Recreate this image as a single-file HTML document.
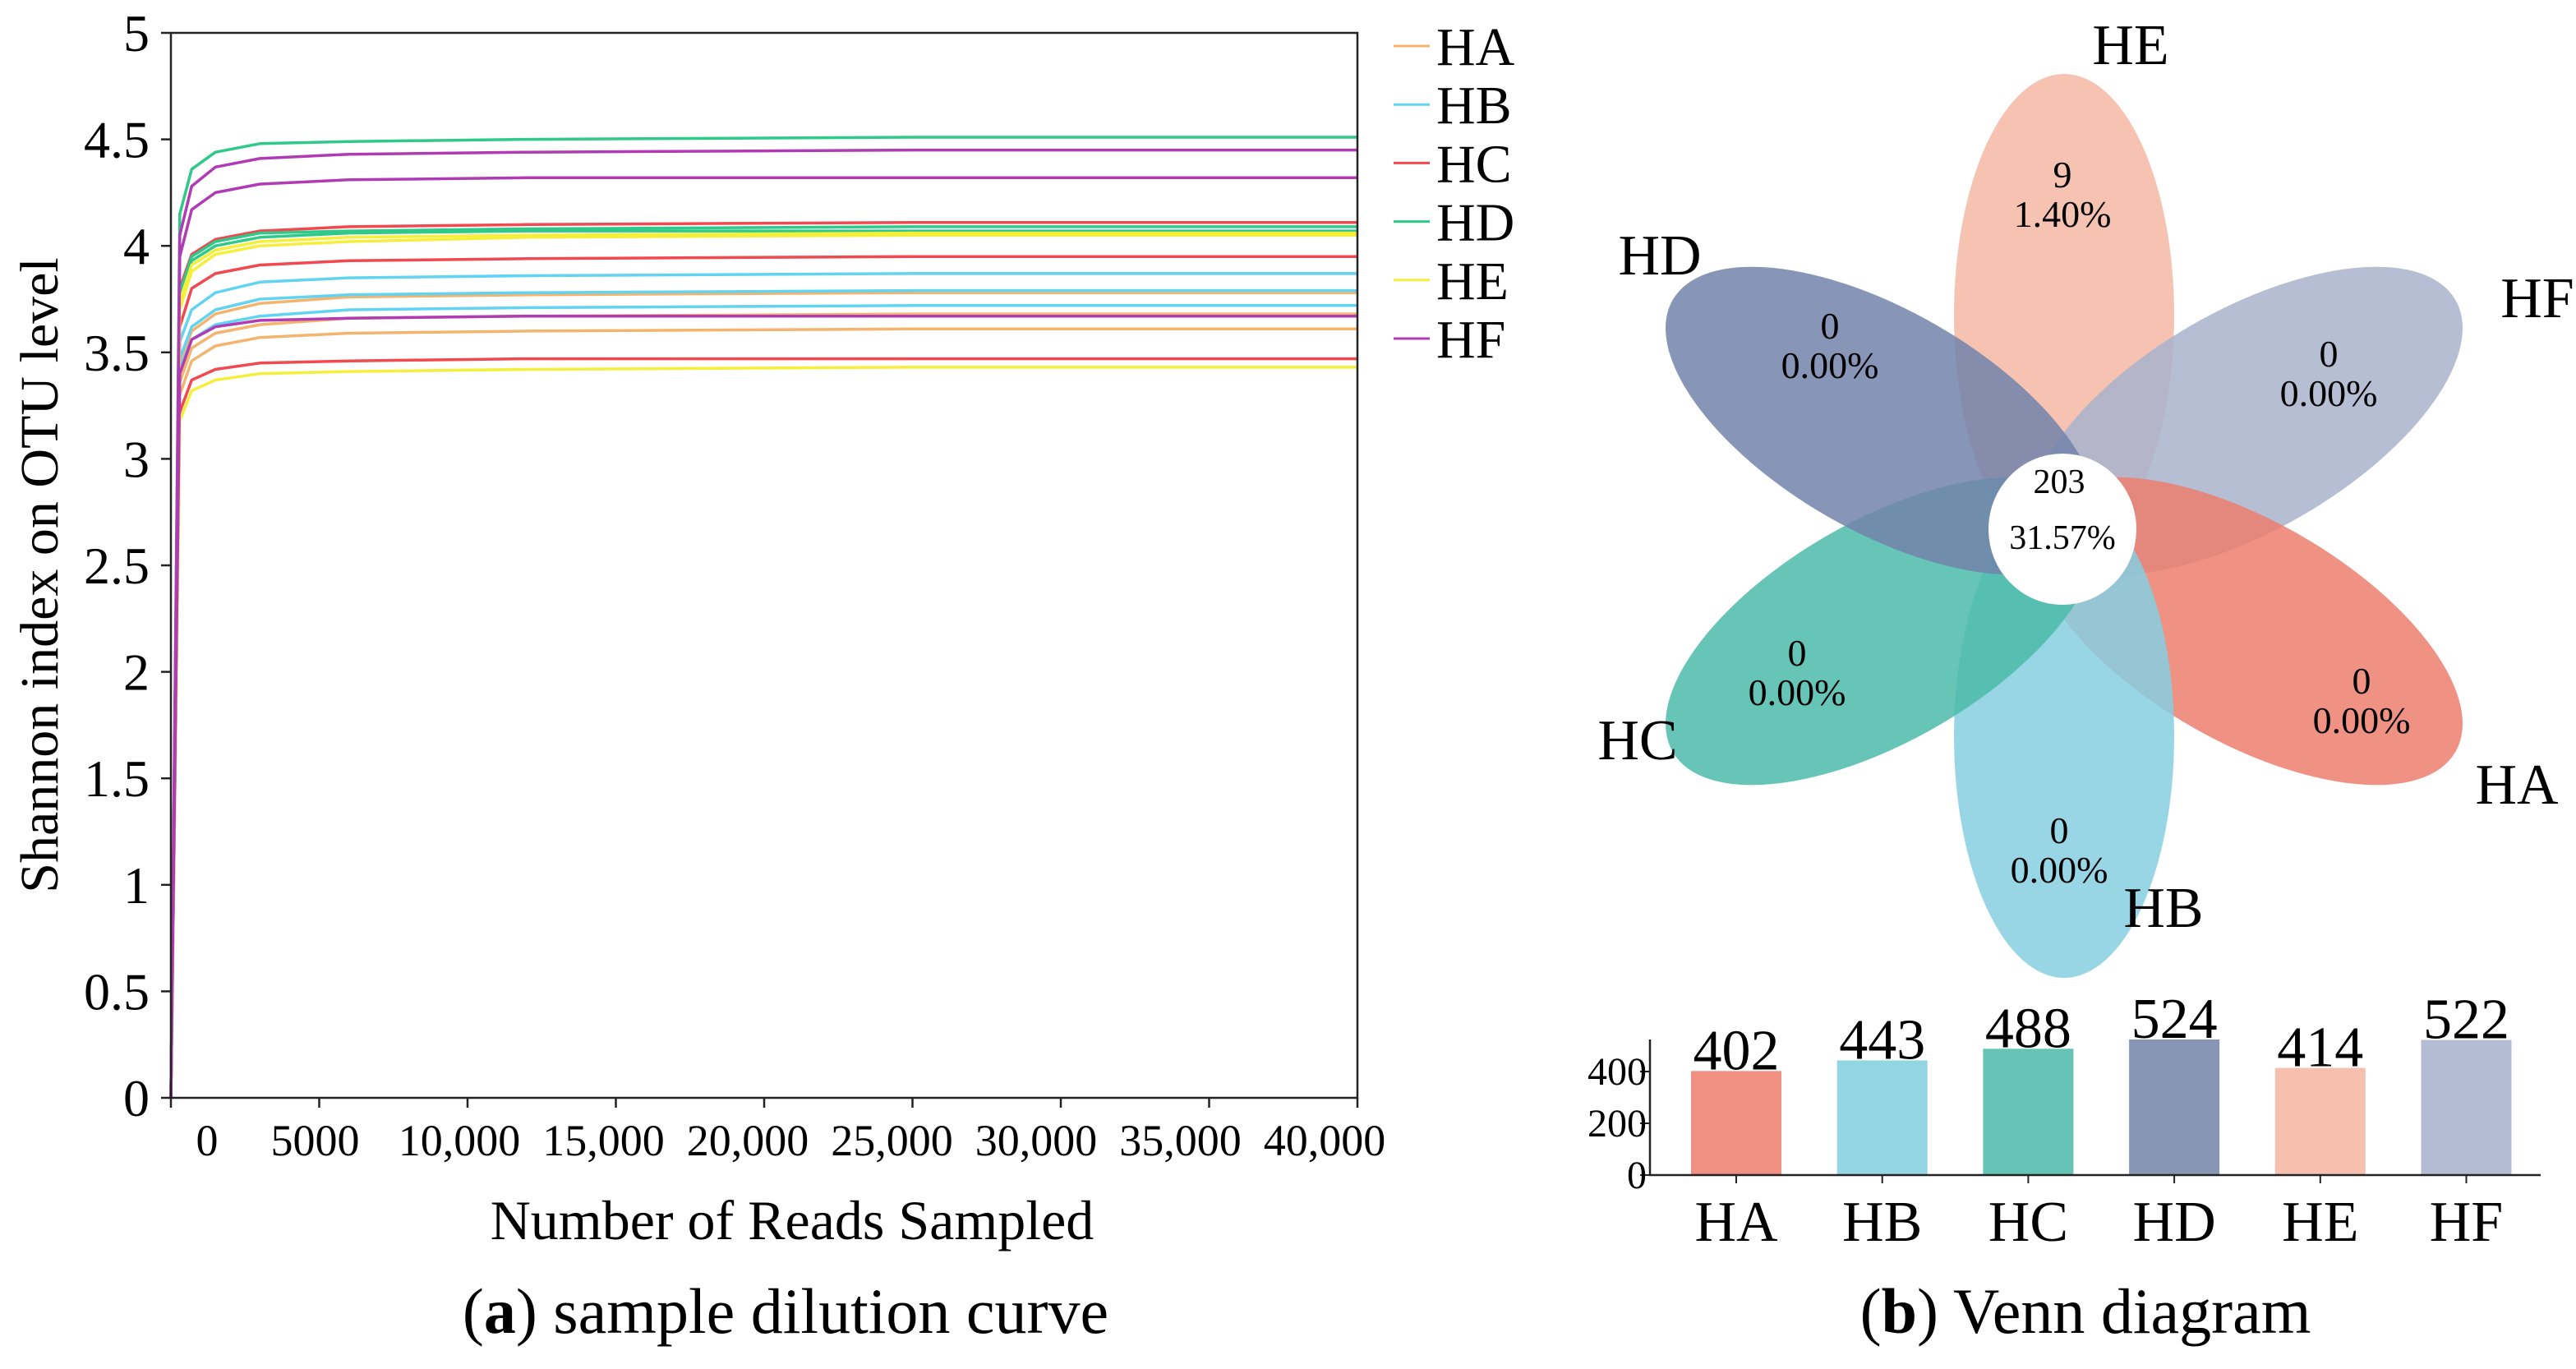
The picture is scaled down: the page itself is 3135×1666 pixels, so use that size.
<!DOCTYPE html>
<html><head><meta charset="utf-8"><style>
html,body{margin:0;padding:0;background:#fff;}
svg{display:block;}
text{font-family:"Liberation Serif","DejaVu Serif",serif;}
</style></head><body>
<svg id="fig" width="3135" height="1666" viewBox="0 0 3135 1666" xmlns="http://www.w3.org/2000/svg">
<g id="left"></g>
<g id="venn"></g>
<g id="bars"></g>
<text x="956" y="1622" font-size="78" text-anchor="middle">(<tspan font-weight="bold">a</tspan>) sample dilution curve</text>
<text x="2538" y="1622" font-size="78" text-anchor="middle">(<tspan font-weight="bold">b</tspan>) Venn diagram</text>
</svg>
<script>
const NS="http://www.w3.org/2000/svg";
function mk(tag,attrs,parent,txt){const e=document.createElementNS(NS,tag);for(const k in attrs)e.setAttribute(k,attrs[k]);if(txt!==undefined)e.textContent=txt;parent.appendChild(e);return e;}

// ---------- Chart (a) data ----------
const depths=[0,300,700,1500,3000,6000,12000,25000,40000];
const yTicks=[0,0.5,1,1.5,2,2.5,3,3.5,4,4.5,5];
const yTickLabels=["0","0.5","1","1.5","2","2.5","3","3.5","4","4.5","5"];
const xTicks=[0,5000,10000,15000,20000,25000,30000,35000,40000];
const xTickLabels=["0","5000","10,000","15,000","20,000","25,000","30,000","35,000","40,000"];
const groups=["HA","HB","HC","HD","HE","HF"];
const groupColors=["#f5b46e","#62d4f2","#f2484f","#2fc98a","#f5ef3c","#b03cb5"];
const seriesGroup=[0,0,0,1,1,1,2,2,2,3,3,3,4,4,4,5,5,5];
const s01=[0,3.45,3.60,3.68,3.73,3.76,3.77,3.78,3.78];
const s02=[0,3.36,3.52,3.59,3.63,3.66,3.67,3.68,3.68];
const s03=[0,3.30,3.46,3.53,3.57,3.59,3.60,3.61,3.61];
const s04=[0,3.55,3.70,3.78,3.83,3.85,3.86,3.87,3.87];
const s05=[0,3.47,3.62,3.70,3.75,3.77,3.78,3.79,3.79];
const s06=[0,3.42,3.56,3.63,3.67,3.70,3.71,3.72,3.72];
const s07=[0,3.80,3.96,4.03,4.07,4.09,4.10,4.11,4.11];
const s08=[0,3.62,3.80,3.87,3.91,3.93,3.94,3.95,3.95];
const s09=[0,3.22,3.37,3.42,3.45,3.46,3.47,3.47,3.47];
const s10=[0,4.15,4.36,4.44,4.48,4.49,4.50,4.51,4.51];
const s11=[0,3.78,3.95,4.02,4.06,4.07,4.08,4.09,4.09];
const s12=[0,3.76,3.93,4.00,4.04,4.06,4.07,4.07,4.07];
const s13=[0,3.74,3.91,3.98,4.02,4.04,4.05,4.06,4.06];
const s14=[0,3.70,3.88,3.96,4.00,4.02,4.04,4.05,4.05];
const s15=[0,3.18,3.32,3.37,3.40,3.41,3.42,3.43,3.43];
const s16=[0,4.05,4.28,4.37,4.41,4.43,4.44,4.45,4.45];
const s17=[0,3.95,4.17,4.25,4.29,4.31,4.32,4.32,4.32];
const s18=[0,3.40,3.56,3.62,3.65,3.66,3.67,3.67,3.67];
const seriesVals=[s01,s02,s03,s04,s05,s06,s07,s08,s09,s10,s11,s12,s13,s14,s15,s16,s17,s18];

const L=208,R=1652,T=40,B=1336;
const xs=v=>L+(v/40000)*(R-L);
const ys=v=>B-(v/5)*(B-T);
const gl=document.getElementById('left');

seriesVals.forEach((vals,i)=>{
  const d=vals.map((v,j)=>(j?'L':'M')+xs(depths[j]).toFixed(1)+' '+ys(v).toFixed(1)).join(' ');
  const p=mk('path',{d:d,fill:'none',stroke:groupColors[seriesGroup[i]],'stroke-width':3.5,'stroke-linejoin':'round'},gl);
  
  
});
const ax=mk('path',{d:`M${L} ${T} L${L} ${B} L${R} ${B} L${R} ${T} L${L} ${T}`,fill:'none',stroke:'#222','stroke-width':2.5},gl);


yTicks.forEach((v,i)=>{
  const tk=mk('line',{x1:L-12,x2:L,y1:ys(v),y2:ys(v),stroke:'#222','stroke-width':2.5},gl);
  
  
  const t=mk('text',{x:L-26,y:ys(v)+22,'font-size':64,'text-anchor':'end'},gl,yTickLabels[i]);
  
  
});
xTicks.forEach((v,i)=>{
  const tk=mk('line',{x1:xs(v),x2:xs(v),y1:B,y2:B+12,stroke:'#222','stroke-width':2.5},gl);
  
  
  const t=mk('text',{x:i===0?252:xs(v)-5*i,y:B+70,'font-size':54,'text-anchor':'middle'},gl,xTickLabels[i]);
  
  
});
const yt=mk('text',{x:0,y:0,'font-size':66,'text-anchor':'middle',transform:'translate(70,700) rotate(-90)'},gl,'Shannon index on OTU level');


const xt=mk('text',{x:964,y:1508,'font-size':68,'text-anchor':'middle'},gl,'Number of Reads Sampled');


groups.forEach((g,i)=>{
  const y=56+i*71.2;
  const ln=mk('line',{x1:1696,x2:1740,y1:y,y2:y,stroke:groupColors[i],'stroke-width':3},gl);
  
  
  const t=mk('text',{x:1748,y:y+23,'font-size':66},gl,g);
  
  
});

// ---------- Venn ----------
const vennSets=["HE","HF","HA","HB","HC","HD"];
const vennAngles=[0,60,120,180,240,300];
const vennColors=["#f5b8a4","#a9b3cc","#ec7f6f","#86cfe1","#4bbba9","#7283aa"];
const vennCounts=["9","0","0","0","0","0"];
const vennPcts=["1.40%","0.00%","0.00%","0.00%","0.00%","0.00%"];
const vennCenterCount="203", vennCenterPct="31.57%";
const CX=2512,CY=640;
const gv=document.getElementById('venn');
vennSets.forEach((s,i)=>{
  const e=mk('ellipse',{cx:CX,cy:CY-256,rx:134,ry:294,fill:vennColors[i],'fill-opacity':0.85,transform:`rotate(${vennAngles[i]} ${CX} ${CY})`},gv);
  
  
});
const cc=mk('ellipse',{cx:2510,cy:644,rx:90,ry:92,fill:'#fff'},gv);


const c1=mk('text',{x:2506,y:600,'font-size':42,'text-anchor':'middle'},gv,vennCenterCount);


const c2=mk('text',{x:2510,y:668,'font-size':42,'text-anchor':'middle'},gv,vennCenterPct);


const petalTextPos=[[2510,214],[2834,432],[2874,830],[2506,1012],[2187,796],[2227,398]];
const petalLabelPos=[[2593,78],[3088,386],[3063,978],[2633,1128],[1993,924],[2020,334]];
vennSets.forEach((s,i)=>{
  const [tx,ty]=petalTextPos[i];
  const a=mk('text',{x:tx,y:ty+14,'font-size':46,'text-anchor':'middle'},gv,vennCounts[i]);
  
  
  const b=mk('text',{x:tx,y:ty+62,'font-size':46,'text-anchor':'middle'},gv,vennPcts[i]);
  
  
  const [lx,ly]=petalLabelPos[i];
  const l=mk('text',{x:lx,y:ly,'font-size':70,'text-anchor':'middle'},gv,s);
  
  
});

// ---------- Bar chart ----------
const barCats=["HA","HB","HC","HD","HE","HF"];
const barVals=[402,443,488,524,414,522];
const barTicks=[0,200,400];
const barColors=["#ef9082","#94d5e4","#66c4b6","#8896b5","#f6bfae","#b3bcd2"];
const bL=2008,bR=3092,b0=1430,bScale=0.315;
const bx=i=>2113+i*177.7;
const by=v=>b0-v*bScale;
const gb=document.getElementById('bars');
barVals.forEach((v,i)=>{
  const r=mk('rect',{x:bx(i)-55,y:by(v),width:110,height:b0-by(v),fill:barColors[i]},gb);
  
  
  const t=mk('text',{x:bx(i),y:by(v)-2,'font-size':70,'text-anchor':'middle'},gb,String(v));
  
  
  const c=mk('text',{x:bx(i),y:1510,'font-size':70,'text-anchor':'middle'},gb,barCats[i]);
  
  
  const tk=mk('line',{x1:bx(i),x2:bx(i),y1:b0,y2:b0+10,stroke:'#222','stroke-width':2},gb);
  
  
});
const bax=mk('path',{d:`M${bL} ${by(524)} L${bL} ${b0} L${bR} ${b0}`,fill:'none',stroke:'#222','stroke-width':2.5},gb);


barTicks.forEach(v=>{
  const tk=mk('line',{x1:bL-12,x2:bL,y1:by(v),y2:by(v),stroke:'#222','stroke-width':2},gb);
  
  
  const t=mk('text',{x:bL-4,y:by(v)+16,'font-size':48,'text-anchor':'end'},gb,String(v));
  
  
});
</script>
</body></html>
